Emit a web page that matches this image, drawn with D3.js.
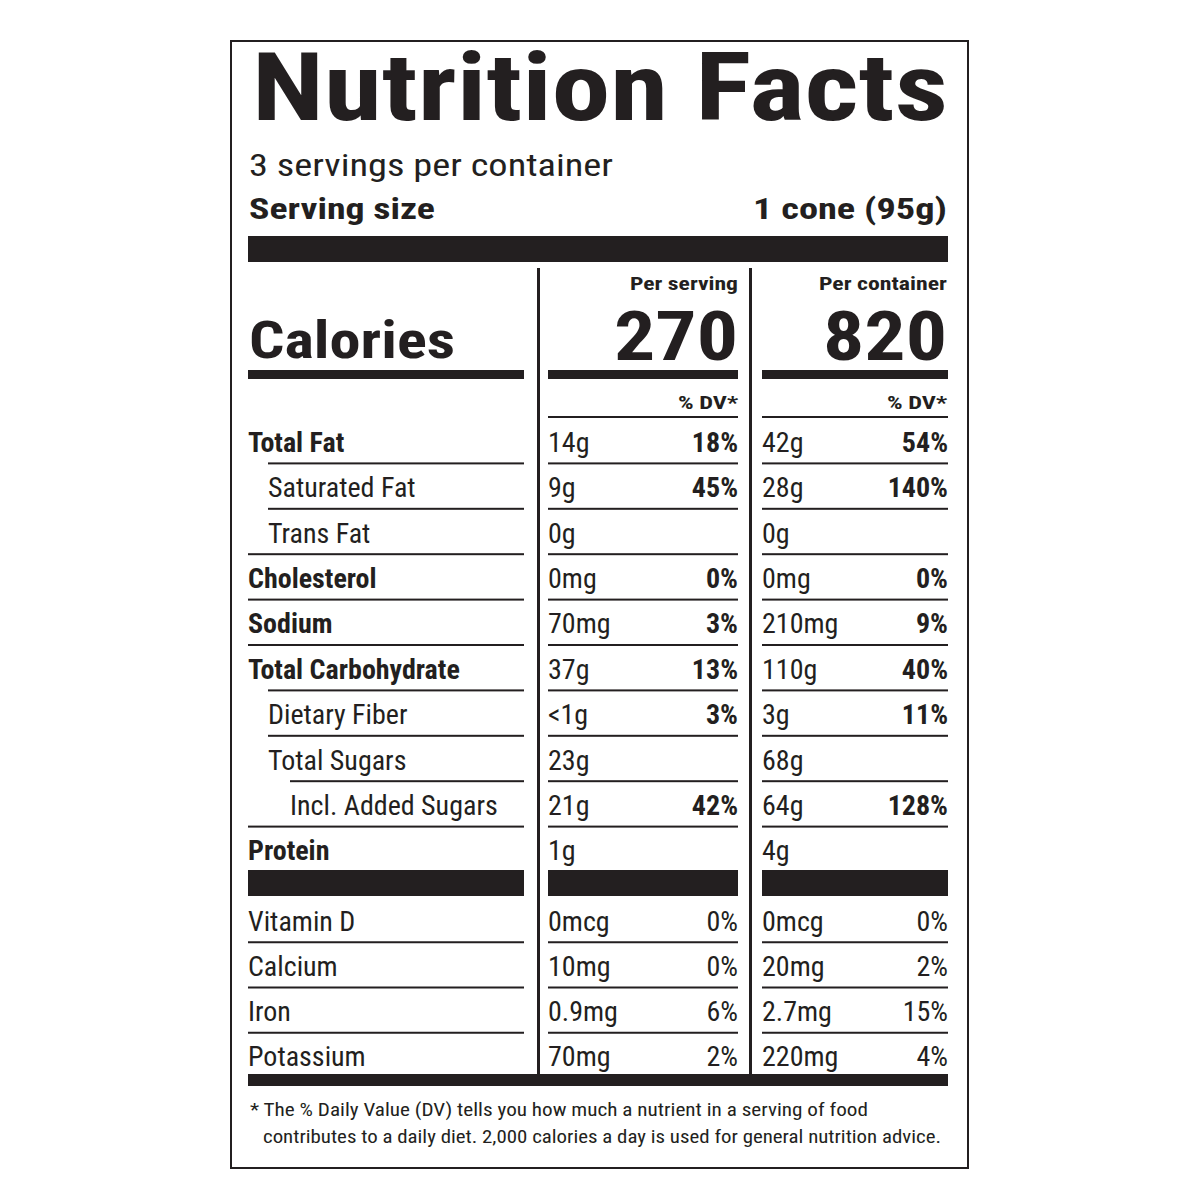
<!DOCTYPE html>
<html><head><meta charset="utf-8">
<script src="https://cdn.jsdelivr.net/npm/d3@7"></script>
<style>body{margin:0;background:#fff}text{font-family:"Liberation Sans Narrow","Roboto Condensed",Roboto,sans-serif;fill:#231f20}</style>
</head><body><svg id="c" width="1200" height="1200"></svg>
<script>
const nutrients=["Total Fat","Saturated Fat","Trans Fat","Cholesterol","Sodium","Total Carbohydrate","Dietary Fiber","Total Sugars","Incl. Added Sugars","Protein"];
const indent=[0,1,1,0,0,0,1,1,2,0];
const servAmt=["14g","9g","0g","0mg","70mg","37g","<1g","23g","21g","1g"];
const servDV=["18%","45%","","0%","3%","13%","3%","","42%",""];
const contAmt=["42g","28g","0g","0mg","210mg","110g","3g","68g","64g","4g"];
const contDV=["54%","140%","","0%","9%","40%","11%","","128%",""];
const vitamins=["Vitamin D","Calcium","Iron","Potassium"];
const vServAmt=["0mcg","10mg","0.9mg","70mg"];
const vServDV=["0%","0%","6%","2%"];
const vContAmt=["0mcg","20mg","2.7mg","220mg"];
const vContDV=["0%","2%","15%","4%"];
const svg=d3.select("#c");
const ink="#231f20";
svg.append("rect").attr("x",231).attr("y",41).attr("width",737).attr("height",1127).attr("fill","#fff").attr("stroke",ink).attr("stroke-width",2);
const L=248,R=948,M1=538,M2=750;
const c1=[248,524],c2=[548,738],c3=[762,948];
function t(x,y,s,size,opt={}){const e=svg.append("text").attr("x",x).attr("y",y).text(s).attr("font-size",size).attr("font-weight",opt.b?"bold":"normal").attr("text-anchor",opt.a||"start");if(opt.w)e.attr("textLength",opt.w).attr("lengthAdjust","spacingAndGlyphs");return e;}
function bar(x1,x2,y,h){svg.append("rect").attr("x",x1).attr("y",y).attr("width",x2-x1).attr("height",h).attr("fill",ink);}
t(252,120,"Nutrition Facts",94,{b:1,w:696});
t(249,176,"3 servings per container",31,{w:364});
t(249,219,"Serving size",30,{b:1,w:186});
t(947,219,"1 cone (95g)",30,{b:1,a:"end",w:194});
bar(L,R,236,26);
svg.append("rect").attr("x",M1-1).attr("y",268).attr("width",3).attr("height",810).attr("fill",ink);
svg.append("rect").attr("x",M2-1).attr("y",268).attr("width",3).attr("height",810).attr("fill",ink);
t(249,358,"Calories",52,{b:1,w:206});
t(738,290,"Per serving",19,{b:1,a:"end",w:108});
t(947,290,"Per container",19,{b:1,a:"end",w:128});
t(738,360,"270",68,{b:1,a:"end",w:124});
t(947,360,"820",68,{b:1,a:"end",w:124});
[c1,c2,c3].forEach(c=>bar(c[0],c[1],370,9));
t(738,409,"% DV*",19,{b:1,a:"end",w:60});
t(947,409,"% DV*",19,{b:1,a:"end",w:60});
[c2,c3].forEach(c=>bar(c[0],c[1],416,2));
const y=d3.scaleBand().domain(d3.range(nutrients.length)).range([418,872]);
const ind=[0,20,42];
nutrients.forEach((n,i)=>{
  const yb=y(i)+y.bandwidth()/2+11, bold=indent[i]===0;
  t(L+ind[indent[i]],yb,n,28,{b:bold});
  t(c2[0],yb,servAmt[i],28);t(c2[1],yb,servDV[i],28,{b:1,a:"end"});
  t(c3[0],yb,contAmt[i],28);t(c3[1],yb,contDV[i],28,{b:1,a:"end"});
  if(i<nutrients.length-1){const ni=indent[i+1];bar(L+ind[ni],c1[1],y(i+1)-1,2);bar(c2[0],c2[1],y(i+1)-1,2);bar(c3[0],c3[1],y(i+1)-1,2);}
});
[c1,c2,c3].forEach(c=>bar(c[0],c[1],870,26));
const yv=d3.scaleBand().domain(d3.range(vitamins.length)).range([897,1078]);
vitamins.forEach((n,i)=>{
  const yb=yv(i)+yv.bandwidth()/2+11;
  t(L,yb,n,28);t(c2[0],yb,vServAmt[i],28);t(c2[1],yb,vServDV[i],28,{a:"end"});
  t(c3[0],yb,vContAmt[i],28);t(c3[1],yb,vContDV[i],28,{a:"end"});
  if(i<vitamins.length-1)[c1,c2,c3].forEach(c=>bar(c[0],c[1],yv(i+1)-1,2));
});
bar(L,R,1074,12);
t(250,1116,"* The % Daily Value (DV) tells you how much a nutrient in a serving of food",19,{w:618});
t(263,1143,"contributes to a daily diet. 2,000 calories a day is used for general nutrition advice.",19,{w:678});
</script></body></html>
